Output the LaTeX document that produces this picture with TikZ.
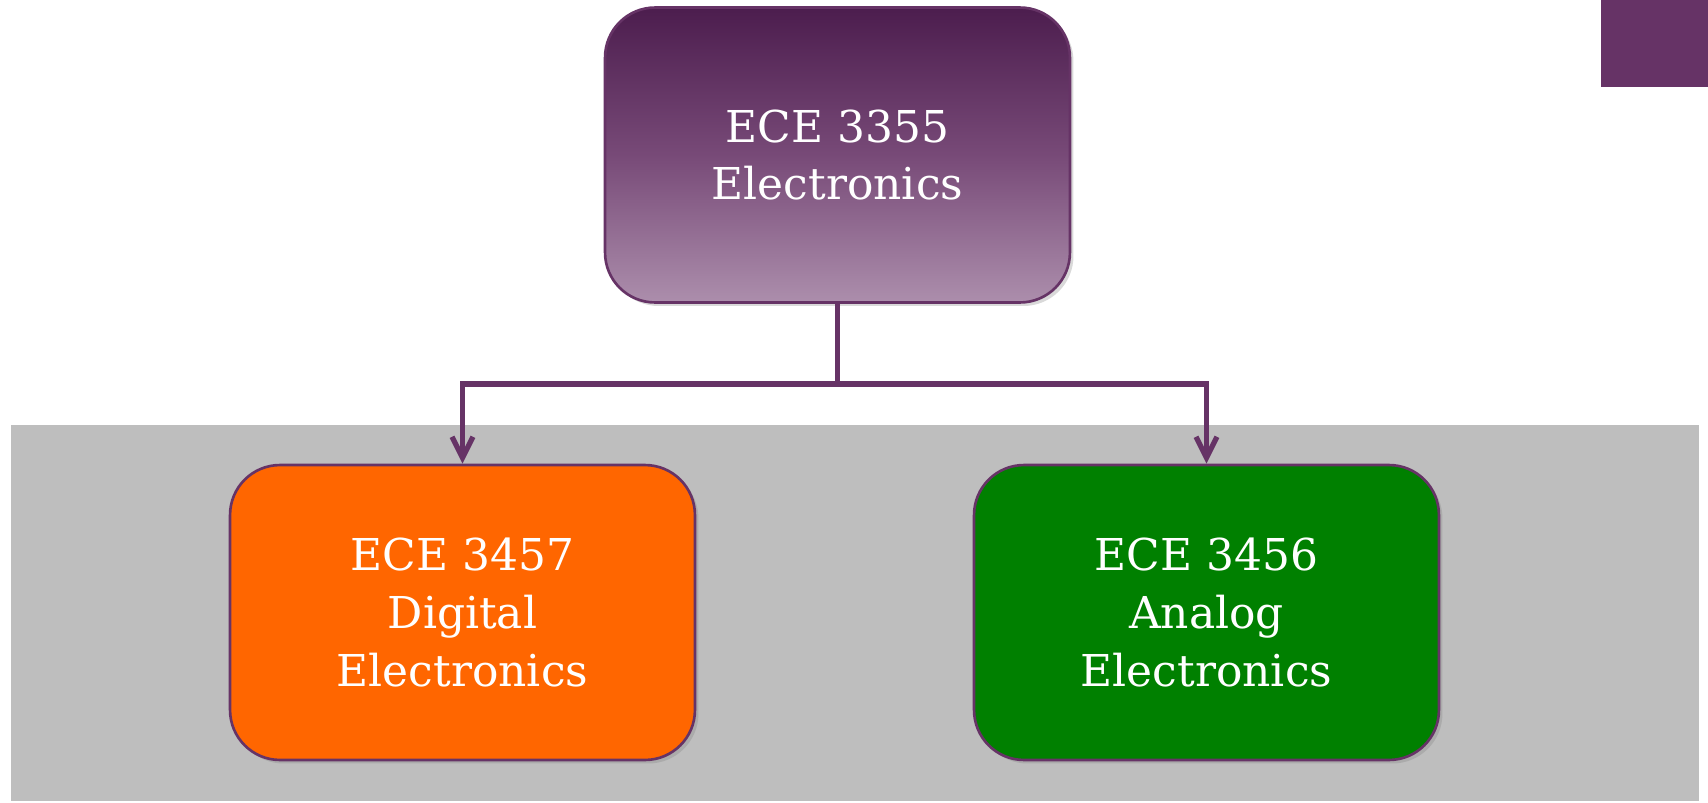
\documentclass[tikz,border=0pt]{standalone}
\usepackage{fontspec}
\setmainfont{DejaVu Serif}
\usepackage{tikz}
\usetikzlibrary{ arrows.meta, % For the arrow tips
                 shadows,     % For soft box shadows
               }

\definecolor{plum}{RGB}{102,51,102}
\definecolor{plum_dark}{RGB}{76,29,78}
\definecolor{plum_light}{RGB}{172,142,172}
\definecolor{panel_gray}{RGB}{190,190,190}
\definecolor{digital_orange}{RGB}{255,102,0}
\definecolor{analog_green}{RGB}{0,128,0}

\tikzset{
  course/.style={draw=plum, line width=1.5pt, rounded corners=1cm,
                 minimum width=9.3cm, minimum height=5.9cm, inner sep=0pt,
                 align=center, text=white,
                 font=\fontsize{25}{33}\selectfont,
                 drop shadow={opacity=0.3, shadow xshift=2pt, shadow yshift=-2pt}},
  branch/.style={draw=plum, line width=3pt},
}

\begin{document}
\begin{tikzpicture}[x=0.02cm, y=-0.02cm]
  \useasboundingbox (0,0) rectangle (1708,802);

  \fill[panel_gray] (11,425) rectangle (1699,801);
  \fill[plum] (1601,0) rectangle (1708,87);

  \node[course, top color=plum_dark, bottom color=plum_light, middle color=plum!75!plum_light] (electronics) at (837.5,155) {ECE 3355\\Electronics};
  \node[course, fill=digital_orange] (digital) at (462.5,612.5) {ECE 3457\\Digital\\Electronics};
  \node[course, fill=analog_green] (analog) at (1206.5,612.5) {ECE 3456\\Analog\\Electronics};

  \coordinate (fork) at (electronics.south |- 0,384);

  \draw[branch] (electronics.south) -- (fork);
  \draw[branch, -{Straight Barb[length=0.42cm, width=0.42cm]}] (fork) -| (digital.north);
  \draw[branch, -{Straight Barb[length=0.42cm, width=0.42cm]}] (fork) -| (analog.north);
\end{tikzpicture}
\end{document}
